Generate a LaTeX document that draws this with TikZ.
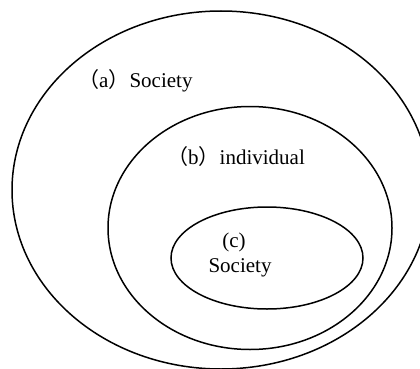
\documentclass[tikz,border=0pt]{standalone}
\usepackage{fontspec}
\setmainfont{Liberation Serif}
\newfontfamily\cjk{Noto Sans CJK SC}
\usetikzlibrary{shapes.geometric}
\begin{document}
\begin{tikzpicture}[x=1pt,y=-1pt,
  ring/.style={draw=black, line width=1.5pt, ellipse, inner sep=0pt},
  lbl/.style={font=\fontsize{21}{24}\selectfont, inner sep=0pt}]
\useasboundingbox (0,0) rectangle (420,369);
\node[ring, minimum width=418pt, minimum height=358pt] (outer) at (221,190) {};
\node[ring, minimum width=284pt, minimum height=243pt] (middle) at (250,228) {};
\node[ring, minimum width=192pt, minimum height=102pt] (inner) at (267,258) {};
\node[lbl, anchor=base west] (la) at (78,87) {{\cjk （}a{\cjk ）}Society};
\node[lbl, anchor=base west] (lb) at (167,164) {{\cjk （}b{\cjk ）}individual};
\node[lbl, anchor=base] (lc) at (234,247) {(c)};
\node[lbl, anchor=base] (lc2) at (240,272) {Society};
\end{tikzpicture}
\end{document}
